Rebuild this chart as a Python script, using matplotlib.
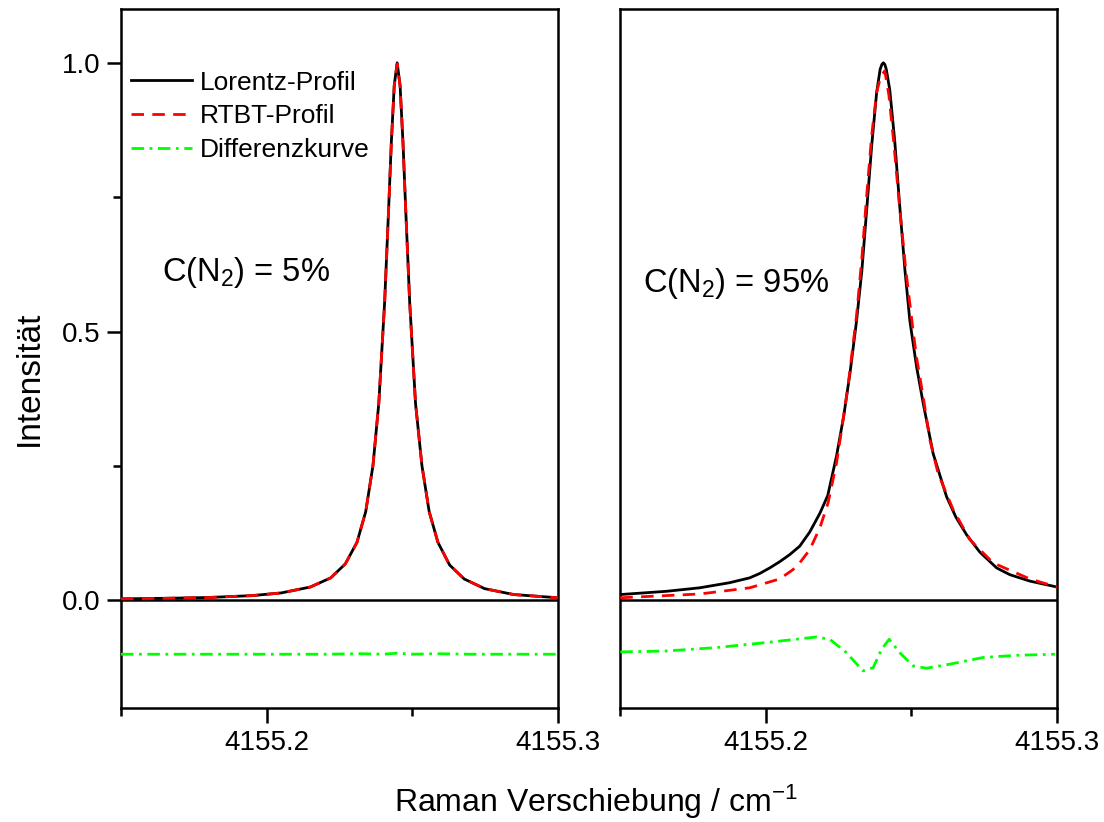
import matplotlib
matplotlib.use('Agg')
import matplotlib.pyplot as plt
from matplotlib.ticker import MultipleLocator

plt.rcParams['font.family'] = ['Liberation Sans', 'DejaVu Sans']
plt.rcParams['mathtext.fontset'] = 'custom'
plt.rcParams['mathtext.rm'] = 'Liberation Sans'
plt.rcParams['mathtext.it'] = 'Liberation Sans:italic'

# --- C(N2) = 5% (left) ---
x_5 = [4155.150, 4155.165, 4155.180, 4155.195, 4155.205, 4155.215, 4155.222,
       4155.227, 4155.231, 4155.234, 4155.2365, 4155.2385, 4155.2405, 4155.2418,
       4155.2428, 4155.2438, 4155.2448, 4155.2458, 4155.2468, 4155.2478,
       4155.2491, 4155.2511, 4155.2533, 4155.2558, 4155.2588, 4155.2628,
       4155.2678, 4155.2748, 4155.2848, 4155.300]
lorentz_5 = [0.003, 0.004, 0.0055, 0.009, 0.014, 0.025, 0.042, 0.068, 0.108,
             0.165, 0.251, 0.367, 0.555, 0.719, 0.852, 0.958, 1.000, 0.958,
             0.852, 0.719, 0.555, 0.367, 0.251, 0.165, 0.108, 0.066, 0.040,
             0.022, 0.011, 0.005]
rtbt_5 = [0.003, 0.004, 0.0055, 0.009, 0.014, 0.025, 0.042, 0.068, 0.108,
          0.165, 0.251, 0.367, 0.553, 0.718, 0.851, 0.957, 0.998, 0.957,
          0.851, 0.718, 0.553, 0.367, 0.251, 0.165, 0.108, 0.066, 0.040,
          0.022, 0.011, 0.005]
diff_x_5 = [4155.150, 4155.190, 4155.220, 4155.232, 4155.240, 4155.2448,
            4155.250, 4155.258, 4155.270, 4155.300]
diff_5 = [0.0, 0.0, 0.0, 0.001, 0.0, 0.002, 0.0, 0.001, 0.0, 0.0]

# --- C(N2) = 95% (right) ---
x_95 = [4155.1501, 4155.1659, 4155.1773, 4155.1876, 4155.1945, 4155.1979,
        4155.2014, 4155.2048, 4155.2082, 4155.2117, 4155.2151, 4155.2186,
        4155.2213, 4155.2243, 4155.2268, 4155.2290, 4155.2312, 4155.2330,
        4155.2347, 4155.2364, 4155.2381, 4155.2393, 4155.2399, 4155.2404,
        4155.2409, 4155.2414, 4155.2426, 4155.2443, 4155.2460, 4155.2478,
        4155.2495, 4155.2518, 4155.2541, 4155.2575, 4155.2621, 4155.2653,
        4155.2690, 4155.2735, 4155.2793, 4155.2838, 4155.2907, 4155.3000]
lorentz_95 = [0.011, 0.017, 0.0235, 0.033, 0.042, 0.050, 0.0605, 0.072,
              0.085, 0.101, 0.127, 0.162, 0.195, 0.268, 0.343, 0.425, 0.520,
              0.612, 0.728, 0.846, 0.945, 0.988, 0.997, 1.000, 0.997, 0.988,
              0.950, 0.855, 0.735, 0.615, 0.520, 0.435, 0.366, 0.273, 0.193,
              0.155, 0.122, 0.090, 0.0605, 0.048, 0.036, 0.025]
x_95_red = [4155.1501, 4155.1773, 4155.1945, 4155.2048, 4155.2093, 4155.2117,
            4155.2151, 4155.2186, 4155.2214, 4155.2243, 4155.2260, 4155.2283,
            4155.2312, 4155.2330, 4155.2347, 4155.2364, 4155.2381, 4155.2395,
            4155.2409, 4155.2423, 4155.2440, 4155.2460, 4155.2481, 4155.2506,
            4155.2518, 4155.2541, 4155.2564, 4155.2592, 4155.2644, 4155.2701,
            4155.2781, 4155.2907, 4155.3000]
rtbt_95 = [0.005, 0.012, 0.0235, 0.040, 0.057, 0.070, 0.094, 0.135, 0.181,
           0.255, 0.315, 0.400, 0.530, 0.635, 0.755, 0.865, 0.945, 0.975,
           0.985, 0.940, 0.850, 0.730, 0.615, 0.502, 0.452, 0.378, 0.298,
           0.236, 0.1685, 0.113, 0.0698, 0.040, 0.025]
diff_x_95 = [4155.1501, 4155.1659, 4155.1831, 4155.2002, 4155.2174, 4155.2220,
             4155.2277, 4155.2334, 4155.2369, 4155.2398, 4155.2424, 4155.2460,
             4155.2506, 4155.2552, 4155.2632, 4155.2747, 4155.2862, 4155.2993]
diff_95 = [0.0043, 0.006, 0.0124, 0.0217, 0.032, 0.0278, 0.0031, -0.031,
           -0.025, 0.0093, 0.0278, 0.0031, -0.0216, -0.026, -0.0185, -0.006,
           -0.002, 0.0]

diff_offset = -0.1

fig = plt.figure(figsize=(11.04, 8.22), dpi=100)
ax1 = fig.add_axes([0.1096, 0.1387, 0.3958, 0.8503])
ax2 = fig.add_axes([0.5616, 0.1387, 0.3958, 0.8503])

panels = [
    (ax1, x_5, lorentz_5, x_5, rtbt_5, diff_x_5, diff_5, 'C(N$_2$) = 5%', 4155.164, 0.61),
    (ax2, x_95, lorentz_95, x_95_red, rtbt_95, diff_x_95, diff_95, 'C(N$_2$) = 95%', 4155.158, 0.59),
]

for ax, xl, yl, xr, yr, xd, yd, label, tx, ty in panels:
    ax.plot(xl, yl, color='black', lw=2.0, label='Lorentz-Profil', zorder=3)
    ax.plot(xr, yr, color='#ff0000', lw=2.0, ls=(0, (4.5, 3)), label='RTBT-Profil', zorder=4)
    ax.plot(xd, [d + diff_offset for d in yd], color='#00ff00', lw=2.0,
            ls=(0, (4.5, 2, 1, 2)), label='Differenzkurve', zorder=3)
    ax.axhline(0, color='black', lw=1.8, zorder=2)
    ax.set_xlim(4155.15, 4155.30)
    ax.set_ylim(-0.2, 1.1)
    ax.xaxis.set_major_locator(MultipleLocator(0.1))
    ax.xaxis.set_minor_locator(MultipleLocator(0.05))
    ax.xaxis.set_major_formatter(plt.FuncFormatter(lambda v, p: '%.1f' % v))
    ax.tick_params(axis='x', which='major', direction='out', length=11, width=1.8,
                   labelsize=20, pad=5)
    ax.tick_params(axis='x', which='minor', direction='out', length=6, width=1.8)
    for s in ax.spines.values():
        s.set_linewidth(1.8)
    ax.text(tx, ty, label, fontsize=23.5, va='center', ha='left')

ax1.set_yticks([0.0, 0.5, 1.0])
ax1.yaxis.set_minor_locator(MultipleLocator(0.25))
ax1.yaxis.set_major_formatter(plt.FuncFormatter(lambda v, p: '%.1f' % v))
ax1.tick_params(axis='y', which='major', direction='out', length=10, width=1.8,
                labelsize=20, pad=5)
ax1.tick_params(axis='y', which='minor', direction='out', length=6, width=1.8)
ax2.set_yticks([])
ax2.yaxis.set_minor_locator(plt.NullLocator())

ax1.legend(loc='upper left', bbox_to_anchor=(0.023, 0.912), frameon=False,
           fontsize=19, handlelength=2.3, handletextpad=0.3, labelspacing=0.37,
           borderaxespad=0, borderpad=0)

fig.text(0.54, 0.025, 'Raman Verschiebung / cm$^{-1}$', fontsize=23,
         ha='center', va='center')
fig.text(0.027, 0.54, 'Intensität', fontsize=24, rotation=90,
         ha='center', va='center')

fig.savefig('out.png', dpi=100)
